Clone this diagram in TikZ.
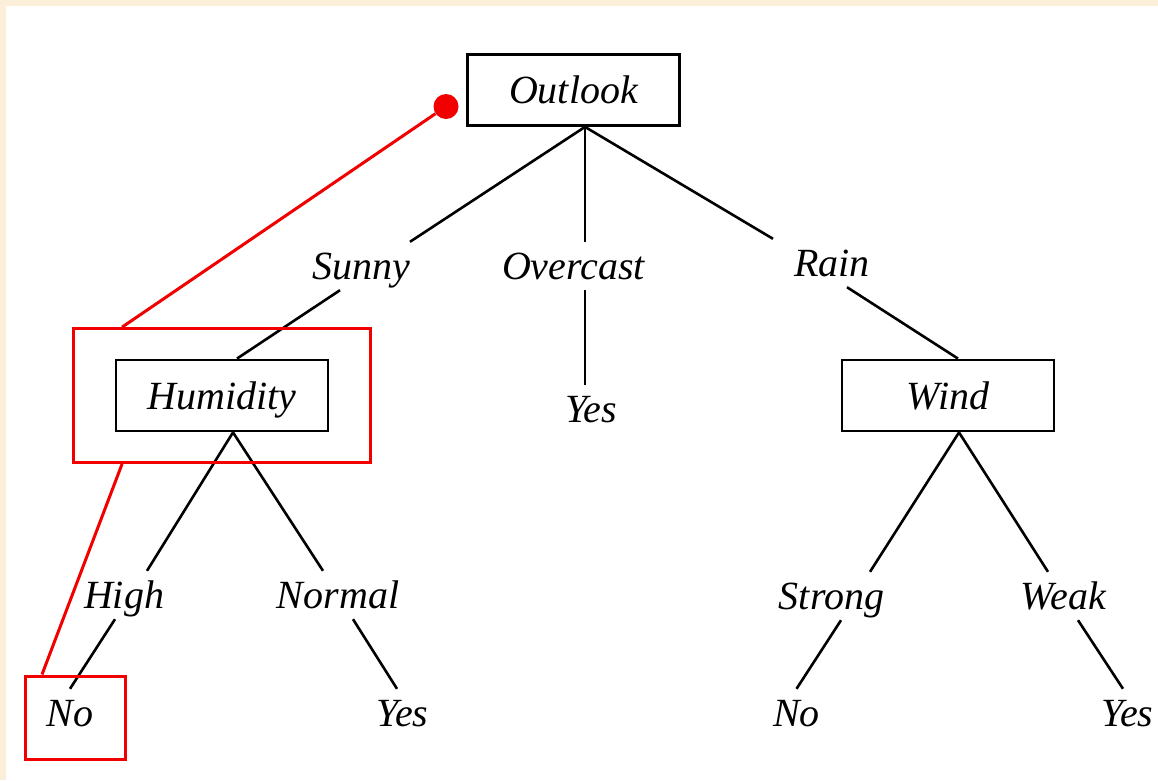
\documentclass[tikz,border=0pt]{standalone}
\usepackage{fontspec}
\setmainfont{Liberation Serif}
\usetikzlibrary{fit}
\definecolor{paper}{HTML}{FBEFD9}
\definecolor{hl}{HTML}{F20000}
\begin{document}
\begin{tikzpicture}[x=1pt,y=-1pt,
  every node/.style={font=\fontsize{40}{48}\selectfont\itshape},
  attr/.style={draw=black, line width=2.8pt, minimum width=212pt, minimum height=71pt,
    inner sep=0pt, text height=27pt, text depth=0pt},
  lbl/.style={inner sep=0pt, text height=37pt, text depth=11pt, anchor=base},
  edge/.style={draw=black, line width=2.6pt},
  hlbox/.style={draw=hl, line width=3pt},
  hlline/.style={draw=hl, line width=3pt}]
\useasboundingbox (0,0) rectangle (1158,780);
% page background with a thin tinted margin
\fill[paper] (0,0) rectangle (1158,780);
\fill[white] (6,6) rectangle (1158,780);

% attribute tests
\node[attr] (outlook) at (573.5,90) {Outlook};
\node[attr] (humidity) at (222,395.5) {Humidity};
\node[attr] (wind) at (948,395.5) {Wind};

% branch values
\node[lbl] (sunny) at (361.5,279) {Sunny};
\node[lbl] (overcast) at (573.5,279) {Overcast};
\node[lbl] (rain) at (832,276) {Rain};
\node[lbl] (yesO) at (591,422) {Yes};
\node[lbl] (high) at (124,608) {High};
\node[lbl] (normal) at (338,608) {Normal};
\node[lbl] (strong) at (831.5,609) {Strong};
\node[lbl] (weak) at (1063.5,609) {Weak};

% leaves
\node[lbl] (noH) at (70,726) {No};
\node[lbl] (yesN) at (402.5,726) {Yes};
\node[lbl] (noS) at (796.5,726) {No};
\node[lbl] (yesW) at (1127.5,726) {Yes};

% tree edges
\draw[edge] ([xshift=11.5pt]outlook.south) -- ([xshift=48.5pt]sunny.north);
\draw[edge] ([xshift=11.5pt]outlook.south) -- ([xshift=11.5pt]overcast.north);
\draw[edge] ([xshift=11.5pt]outlook.south) -- ([xshift=-59pt]rain.north);
\draw[edge] ([xshift=-21.5pt]sunny.south) -- ([xshift=15pt]humidity.north);
\draw[edge] ([xshift=11.5pt]overcast.south) -- ([xshift=-6pt]yesO.north);
\draw[edge] ([xshift=15pt]rain.south) -- ([xshift=10pt]wind.north);
\draw[edge] ([xshift=11pt]humidity.south) -- ([xshift=23pt]high.north);
\draw[edge] ([xshift=11pt]humidity.south) -- ([xshift=-15pt]normal.north);
\draw[edge] ([xshift=11pt]wind.south) -- ([xshift=38.5pt]strong.north);
\draw[edge] ([xshift=11pt]wind.south) -- ([xshift=-15.5pt]weak.north);
\draw[edge] ([xshift=-9pt]high.south) -- (noH.north);
\draw[edge] ([xshift=15pt]normal.south) -- ([xshift=-5.5pt]yesN.north);
\draw[edge] ([xshift=9.5pt]strong.south) -- (noS.north);
\draw[edge] ([xshift=14.5pt]weak.south) -- ([xshift=-4.5pt]yesW.north);

% highlighted path
\node[fill=hl, circle, minimum size=25pt, inner sep=0pt] (dot) at (446,106.5) {};
\node[hlbox, fit=(humidity), inner xsep=41pt, inner ysep=30pt] (hbox) {};
\node[hlbox, minimum width=100pt, minimum height=83pt, inner sep=0pt] (nbox) at (75.5,717.5) {};
\draw[hlline] (dot) -- ([xshift=50pt]hbox.north west);
\draw[hlline] ([xshift=50pt]hbox.south west) -- ([xshift=18pt]nbox.north west);
\end{tikzpicture}
\end{document}
